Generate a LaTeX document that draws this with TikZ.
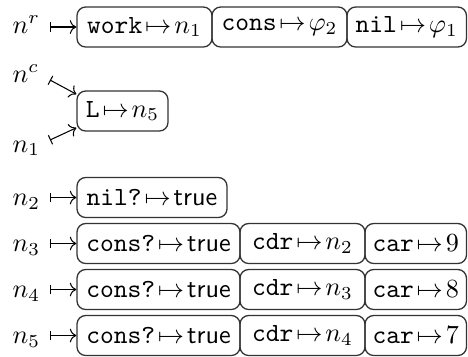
\documentclass[tikz,border=0pt]{standalone}
\usetikzlibrary{arrows.meta}
\newcommand{\mt}{\!\mapsto\!}
\begin{document}
\begin{tikzpicture}[x=0.3817pt,y=-0.3817pt,
  bx/.style={draw=black!80,line width=0.5pt,rounded corners=3.3pt,minimum height=40*0.3817pt,inner xsep=0pt,inner ysep=0pt},
  bw/.style={minimum width=#1*0.3817pt},
  lbl/.style={anchor=base west,inner sep=0pt},
  mp/.style={{Bar[width=3.8pt]}-{To[]},line width=0.4pt}]
\useasboundingbox (0,0) rectangle (468,356);
\coordinate (x0) at (12,0);
% row r
\node[bx,bw=135] (r1) at (144.5,27) {$\texttt{work}\mt n_1$};
\node[bx,bw=135] (r2) at (279.5,27) {$\texttt{cons}\mt \varphi_2$};
\node[bx,bw=119.5] (r3) at (406.75,27) {$\texttt{nil}\mt\varphi_1$};
\node[lbl] (lr) at (r1.base -| x0) {$n^r$};
\coordinate (sr) at (50,27);
\draw[mp] (sr) -- (r1.west);
% L box
\node[bx,bw=91] (L) at (122.5,111) {$\texttt{L}\mt n_5$};
\node[lbl] (lc) at (12,82) {$n^c$};
\node[lbl] (l1) at (12,152) {$n_1$};
\coordinate (sc) at (50,80);
\coordinate (s1) at (50,140);
\draw[mp] (sc) -- (L.160);
\draw[mp] (s1) -- (L.200);
% n2
\node[bx,bw=150] (a2) at (152,197.5) {$\texttt{nil?}\mt\textsf{true}$};
\node[lbl] (l2) at (a2.base -| x0) {$n_2$};
\coordinate (s2) at (50,197.5);
\draw[mp] (s2) -- (a2.west);
% n3
\node[bx,bw=163] (c1) at (158.5,243.5) {$\texttt{cons?}\mt\textsf{true}$};
\node[bx,bw=125] (c2) at (302.5,243.5) {$\texttt{cdr}\mt n_2$};
\node[bx,bw=101.5] (c3) at (415.75,243.5) {$\texttt{car}\mt 9$};
\node[lbl] (l3) at (c1.base -| x0) {$n_3$};
\coordinate (s3) at (50,243.5);
\draw[mp] (s3) -- (c1.west);
% n4
\node[bx,bw=163] (d1) at (158.5,289.5) {$\texttt{cons?}\mt\textsf{true}$};
\node[bx,bw=125] (d2) at (302.5,289.5) {$\texttt{cdr}\mt n_3$};
\node[bx,bw=101.5] (d3) at (415.75,289.5) {$\texttt{car}\mt 8$};
\node[lbl] (l4) at (d1.base -| x0) {$n_4$};
\coordinate (s4) at (50,289.5);
\draw[mp] (s4) -- (d1.west);
% n5
\node[bx,bw=163] (e1) at (158.5,335.5) {$\texttt{cons?}\mt\textsf{true}$};
\node[bx,bw=125] (e2) at (302.5,335.5) {$\texttt{cdr}\mt n_4$};
\node[bx,bw=101.5] (e3) at (415.75,335.5) {$\texttt{car}\mt 7$};
\node[lbl] (l5) at (e1.base -| x0) {$n_5$};
\coordinate (s5) at (50,335.5);
\draw[mp] (s5) -- (e1.west);
\end{tikzpicture}
\end{document}
